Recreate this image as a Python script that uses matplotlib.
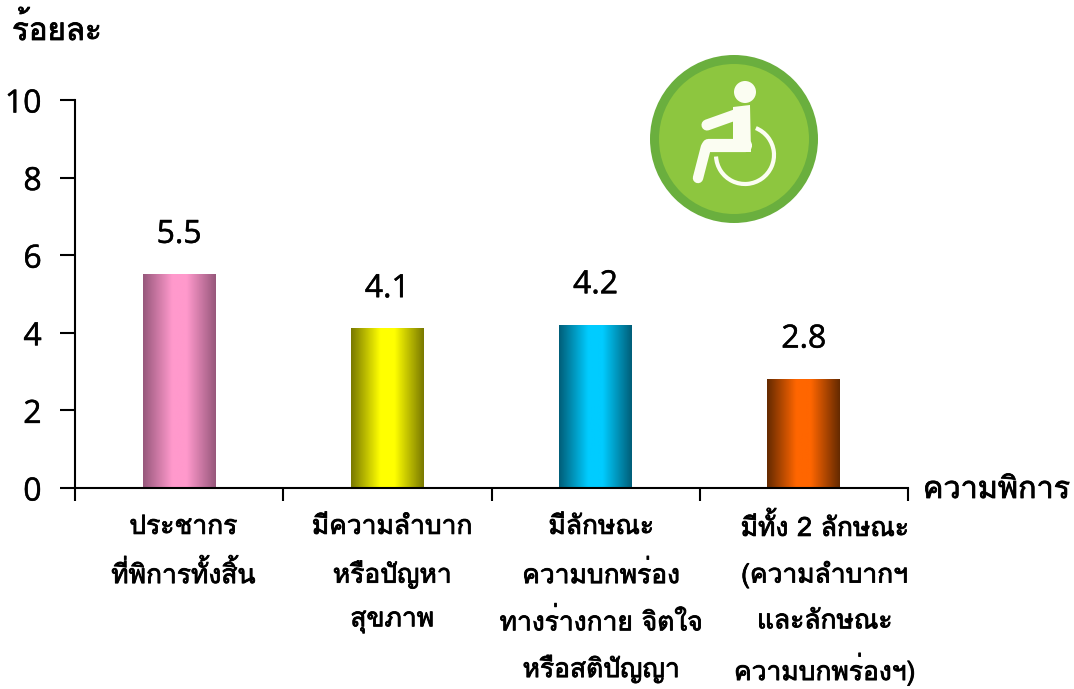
import matplotlib
matplotlib.use('Agg')
import matplotlib.pyplot as plt
import matplotlib.patheffects as pe
import numpy as np
from matplotlib.colors import LinearSegmentedColormap
from matplotlib.patches import Arc, Circle, Polygon

plt.rcParams['font.family'] = ['Loma', 'Noto Sans Thai Looped', 'Sarabun', 'DejaVu Sans']
DIGIT_FONT = ['Open Sans', 'DejaVu Sans']

W, H = 1074, 689

categories = [
    ['ประชากร', 'ที่พิการทั้งสิ้น'],
    ['มีความลำบาก', 'หรือปัญหา', 'สุขภาพ'],
    ['มีลักษณะ', 'ความบกพร่อง', 'ทางร่างกาย จิตใจ', 'หรือสติปัญญา'],
    ['มีทั้ง 2 ลักษณะ', '(ความลำบากฯ', 'และลักษณะ', 'ความบกพร่องฯ)'],
]
values = [5.5, 4.1, 4.2, 2.8]
y_ticks = [0, 2, 4, 6, 8, 10]
centre_colors = ['#FF99CC', '#FFFF00', '#00CCFF', '#FF6600']
edge_colors = ['#98587C', '#7A7A00', '#005F7A', '#662A00']

# thickens the regular faces a little, the bold ones run too wide
heavy = [pe.withStroke(linewidth=0.6, foreground='black')]
digit_heavy = [pe.withStroke(linewidth=0.35, foreground='black')]

fig = plt.figure(figsize=(W / 100, H / 100), dpi=100)
ax = fig.add_axes([75 / W, 1 - 488 / H, (908 - 75) / W, (488 - 100) / H])

x = np.arange(4) + 0.5
bars = ax.bar(x, values, width=0.35, color='none')

# gradient fill, dark at the sides
for rect, c, e in zip(bars, centre_colors, edge_colors):
    cmap = LinearSegmentedColormap.from_list('g', [(0, e), (0.4, c), (0.6, c), (1, e)])
    ax.imshow(
        np.linspace(0, 1, 100).reshape(1, -1), cmap=cmap, aspect='auto', zorder=2,
        extent=(rect.get_x(), rect.get_x() + rect.get_width(), 0, rect.get_height()),
    )
ax.set_xlim(0, 4)
ax.set_ylim(0, 10)

for spine in ['top', 'right']:
    ax.spines[spine].set_visible(False)
for spine in ['left', 'bottom']:
    ax.spines[spine].set_linewidth(1.5)
    ax.spines[spine].set_zorder(3)

ax.set_yticks(y_ticks)
ax.set_yticklabels(y_ticks, fontsize=23, family=DIGIT_FONT, path_effects=digit_heavy)
ax.tick_params(axis='y', length=11, width=1.5, pad=13)
ax.set_xticks(range(5))
ax.set_xticklabels([])
ax.tick_params(axis='x', length=9, width=1.5)

for xi, v in zip(x, values):
    ax.annotate(f'{v:.1f}', (xi, v), xytext=(0, 29), textcoords='offset points',
                ha='center', va='center', fontsize=23, family=DIGIT_FONT,
                path_effects=digit_heavy)

# category labels, one text per line so the spacing stays even
# the labels sit right of the bars in the original, the last one most of all
label_shift = [3, 3.5, 4, 15]
for xi, lines, shift in zip(x, categories, label_shift):
    for i, line in enumerate(lines):
        ax.annotate(line, (xi, 0), xytext=(shift, -28 - i * 34), textcoords='offset points',
                    ha='center', va='center', fontsize=19, path_effects=heavy,
                    annotation_clip=False)

fig.text(12 / W, 1 - 30 / H, 'ร้อยละ', fontsize=22.5, va='center', path_effects=heavy)
fig.text(923 / W, 1 - 490 / H, 'ความพิการ', fontsize=22, va='center', path_effects=heavy)

# wheelchair badge, drawn in pixel coordinates
icon = fig.add_axes([0, 0, 1, 1], facecolor='none')
icon.set_xlim(0, W)
icon.set_ylim(H, 0)
icon.axis('off')
icon.add_patch(Circle((734, 139), 84, color='#6AAF3E', lw=0))
icon.add_patch(Circle((734, 139), 75, color='#8DC63F', lw=0))
white = '#FBFDF2'
icon.add_patch(Circle((745, 92), 11, color=white, lw=0))
icon.add_patch(Polygon([(733, 107), (750, 105), (751, 152), (733, 152)], color=white, lw=0))
icon.plot([707, 735], [125, 115], color=white, lw=8, solid_capstyle='round')
icon.plot([708, 745], [145, 145], color=white, lw=9.5, solid_capstyle='round')
icon.plot([706, 698], [147, 178], color=white, lw=7.5, solid_capstyle='round')
icon.add_patch(Arc((745, 155), 58, 58, theta1=-68, theta2=177, color=white, lw=3))

fig.savefig('out.png', dpi=100)
